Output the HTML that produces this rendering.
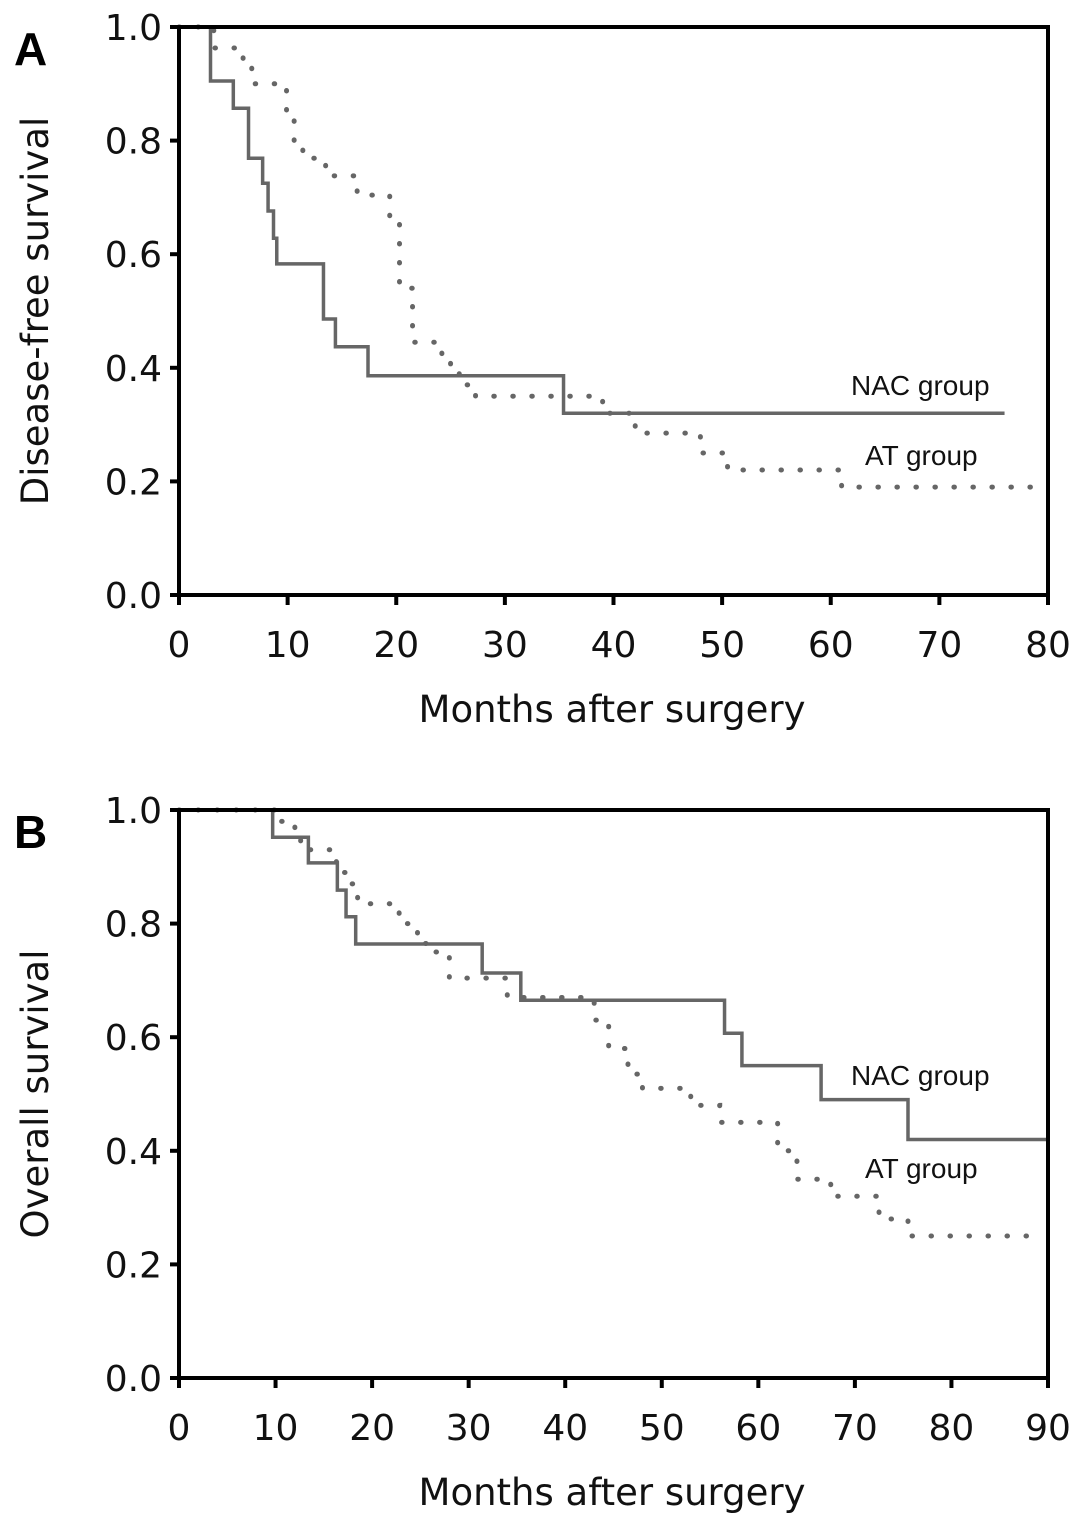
<!DOCTYPE html>
<html><head><meta charset="utf-8"><style>
html,body{margin:0;padding:0;background:#fff;}
svg{display:block;}
</style></head><body>
<svg id="chart" width="1087" height="1528" xmlns="http://www.w3.org/2000/svg"></svg>
<script>
// Panel A data (Disease-free survival)
const aNacT = [0, 2.9, 5.0, 6.4, 7.7, 8.2, 8.7, 9.0, 13.3, 14.4, 17.4, 35.4, 76];
const aNacS = [1.0, 0.905, 0.857, 0.769, 0.725, 0.676, 0.628, 0.583, 0.486, 0.437, 0.386, 0.32, 0.32];
const aAtT = [0, 3.2, 5.9, 6.7, 9.9, 10.6, 11.4, 13.5, 16.4, 19.4, 20.3, 21.5, 24.2, 25.0, 25.8, 27.3, 39.0, 42.0, 48.0, 50.5, 61.0, 79];
const aAtS = [1.0, 0.963, 0.93, 0.90, 0.85, 0.80, 0.769, 0.738, 0.704, 0.66, 0.54, 0.445, 0.41, 0.39, 0.37, 0.35, 0.32, 0.285, 0.25, 0.22, 0.19, 0.19];
// Panel B data (Overall survival)
const bNacT = [0, 9.7, 13.4, 16.4, 17.3, 18.3, 31.4, 35.4, 56.5, 58.3, 66.5, 75.5, 90];
const bNacS = [1.0, 0.952, 0.907, 0.859, 0.812, 0.764, 0.713, 0.665, 0.607, 0.55, 0.49, 0.42, 0.42];
const bAtT = [0, 10.5, 12.0, 12.6, 16.3, 17.5, 18.5, 22.8, 24.7, 26.0, 28.0, 34.0, 43.0, 44.5, 46.5, 48.0, 53.0, 56.0, 62.0, 64.0, 67.5, 72.5, 75.5, 89];
const bAtS = [1.0, 0.98, 0.965, 0.93, 0.89, 0.87, 0.835, 0.80, 0.765, 0.75, 0.704, 0.67, 0.63, 0.58, 0.535, 0.51, 0.48, 0.45, 0.40, 0.35, 0.32, 0.28, 0.25, 0.25];
const yTicks = ["0.0","0.2","0.4","0.6","0.8","1.0"];
const aXTicks = [0,10,20,30,40,50,60,70,80];
const bXTicks = [0,10,20,30,40,50,60,70,80,90];

const NS="http://www.w3.org/2000/svg";
const svg=document.getElementById('chart');
function mk(tag,attrs,parent){const e=document.createElementNS(NS,tag);for(const k in attrs)e.setAttribute(k,attrs[k]);(parent||svg).appendChild(e);return e;}

function panel(key,top,xmax,xticks,ylabel,letter,nT,nS,aT,aS,nacLab,atLab){
  const L=179,R=1048,T=top,B=top+568;
  const xs=v=>L+(R-L)*v/xmax;
  const ys=v=>B-(B-T)*v;
  const g=mk('g',{});
  
  
  const lt=mk('text',{x:14,y:T+38,'font-family':'Liberation Sans, sans-serif','font-weight':'bold','font-size':'46'},g);
  lt.textContent=letter;
  
  
  function stepPath(t,s){let d='M'+xs(t[0])+','+ys(s[0]);for(let i=1;i<t.length;i++){d+=' H'+xs(t[i])+' V'+ys(s[i]);}return d;}
  const p1=mk('path',{d:stepPath(nT,nS),fill:'none',stroke:'#666','stroke-width':'3.5'},g);
  
  
  const p2=mk('path',{d:stepPath(aT,aS),fill:'none',stroke:'#666','stroke-width':'5','stroke-dasharray':'0.5 18.5','stroke-linecap':'round'},g);
  
  
  const ax=mk('path',{d:`M${L},${T} H${R} V${B} H${L} Z`,fill:'none',stroke:'#000','stroke-width':'4'},g);
  
  
  yTicks.forEach((lab,i)=>{
    const v=parseFloat(lab);const y=ys(v);
    mk('line',{x1:L-9,x2:L,y1:y,y2:y,stroke:'#000','stroke-width':'4'},g);
    const t=mk('text',{x:L-17,y:y+13,'text-anchor':'end','font-family':'DejaVu Sans, sans-serif','font-size':'36',fill:'#111'},g);
    t.textContent=lab;
    
    
  });
  xticks.forEach(v=>{
    const x=xs(v);
    mk('line',{x1:x,x2:x,y1:B,y2:B+10,stroke:'#000','stroke-width':'4'},g);
    const t=mk('text',{x:x,y:B+62,'text-anchor':'middle','font-family':'DejaVu Sans, sans-serif','font-size':'36',fill:'#111'},g);
    t.textContent=String(v);
    
    
  });
  const xt=mk('text',{x:612,y:B+127,'text-anchor':'middle','font-family':'DejaVu Sans, sans-serif','font-size':'37',fill:'#111'},g);
  xt.textContent='Months after surgery';
  
  
  const yt=mk('text',{x:0,y:0,'text-anchor':'middle','font-family':'DejaVu Sans, sans-serif','font-size':'37',fill:'#111',transform:`translate(48,${(T+B)/2}) rotate(-90)`},g);
  yt.textContent=ylabel;
  
  
  const n=mk('text',{x:nacLab[0],y:nacLab[1],'font-family':'Liberation Sans, sans-serif','font-size':'28',fill:'#111'},g);
  n.textContent='NAC group';
  
  
  const a=mk('text',{x:atLab[0],y:atLab[1],'font-family':'Liberation Sans, sans-serif','font-size':'28',fill:'#111'},g);
  a.textContent='AT group';
  
  
}
panel('a',27,80,aXTicks,'Disease-free survival','A',aNacT,aNacS,aAtT,aAtS,[851,395],[865,465]);
panel('b',810,90,bXTicks,'Overall survival','B',bNacT,bNacS,bAtT,bAtS,[851,1085],[865,1178]);
</script>
</body></html>
